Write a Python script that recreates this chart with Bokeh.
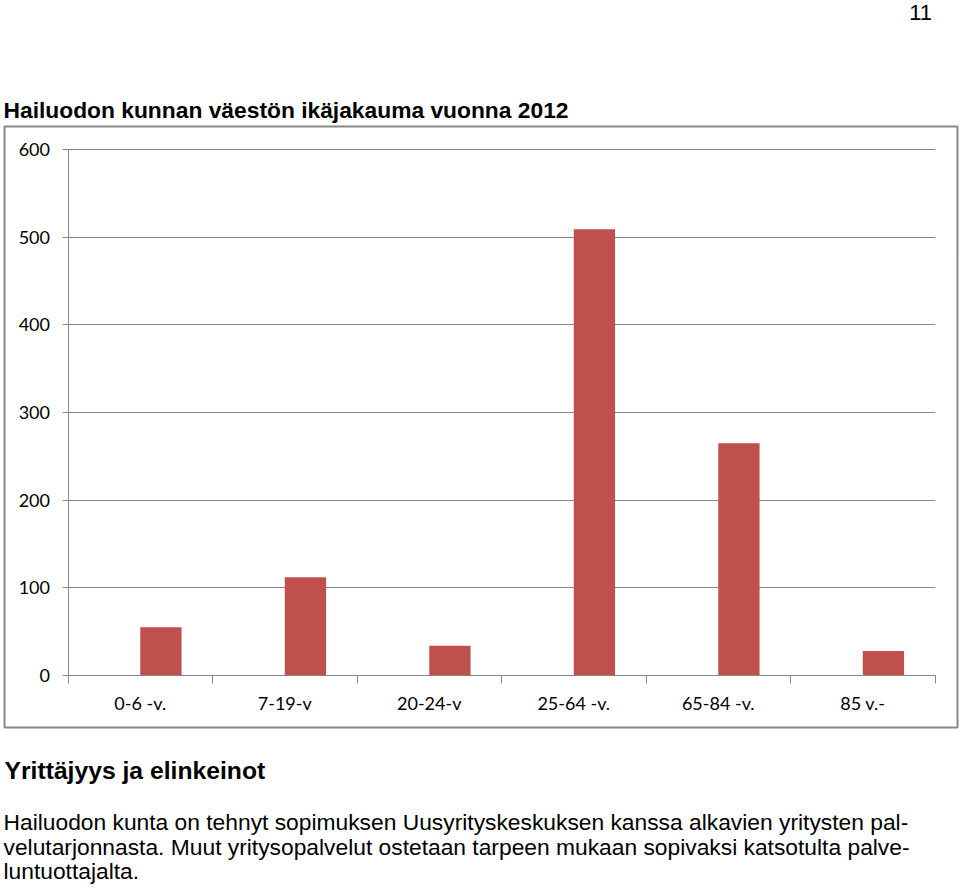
from bokeh.plotting import figure
from bokeh.models import Label, BoxAnnotation, FixedTicker, ColumnDataSource, Range1d
from bokeh.embed import file_html
from bokeh.resources import INLINE

# ---- data ----
categories = ["0-6 -v.", "7-19-v", "20-24-v", "25-64 -v.", "65-84 -v.", "85 v.-"]
population = [55, 112, 34, 509, 265, 28]
y_ticks = [0, 100, 200, 300, 400, 500, 600]

page_number = "11"
page_title = "Hailuodon kunnan väestön ikäjakauma vuonna 2012"
heading = "Yrittäjyys ja elinkeinot"
paragraph_lines = [
    "Hailuodon kunta on tehnyt sopimuksen Uusyrityskeskuksen kanssa alkavien yritysten pal-",
    "velutarjonnasta. Muut yritysopalvelut ostetaan tarpeen mukaan sopivaksi katsotulta palve-",
    "luntuottajalta.",
]

# ---- layout / styles ----
W, H = 960, 892
BAR = "#C0504D"
GRID = "#868686"
BORDER = "#888888"
CHART_FONT = "Lato"
TEXT_FONT = "Liberation Sans"

n = len(categories)
y_max = y_ticks[-1]
# plot-area position on the page (pixels)
PX_LEFT, PX_RIGHT = 67.5, 934.5
PX_TOP, PX_BOTTOM = 149.0, 675.0

x_scale = (PX_RIGHT - PX_LEFT) / n
y_scale = (PX_BOTTOM - PX_TOP) / y_max
x_range = Range1d(-PX_LEFT / x_scale, n + (W - PX_RIGHT) / x_scale)
y_range = Range1d(-(H - PX_BOTTOM) / y_scale, y_max + PX_TOP / y_scale)

centers = [i + 0.5 for i in range(n)]
bar_offset = 0.143
bar_width = 0.2857

src = ColumnDataSource(dict(x=[c + bar_offset for c in centers], top=population))

p = figure(width=W, height=H, output_backend="svg", toolbar_location=None,
           title=None, x_range=x_range, y_range=y_range,
           background_fill_color="white", border_fill_color="white",
           outline_line_color=None)
p.min_border = 0

# grid lines limited to the plot area
p.xgrid.grid_line_color = None
p.ygrid.ticker = FixedTicker(ticks=y_ticks)
p.ygrid.grid_line_color = GRID
p.ygrid.grid_line_width = 1
try:
    p.ygrid.cross_bounds = (0, n)
except Exception:
    p.ygrid.grid_line_color = None
    p.segment(x0=0, x1=n, y0=y_ticks, y1=y_ticks, line_color=GRID, line_width=1,
              level="underlay")

p.vbar(x="x", top="top", width=bar_width, source=src, color=BAR, line_color=None)

# x axis (drawn at value 0)
xa = p.xaxis[0]
xa.fixed_location = 0
xa.bounds = (0, n)
xa.ticker = FixedTicker(ticks=centers, minor_ticks=list(range(n + 1)))
xa.major_label_overrides = {c: lab for c, lab in zip(centers, categories)}
xa.major_tick_line_color = None
xa.major_tick_in = 0
xa.major_tick_out = 8
xa.minor_tick_in = 0
xa.minor_tick_out = 8
xa.minor_tick_line_color = GRID
xa.axis_line_color = GRID
xa.major_label_standoff = 8
xa.major_label_text_font = CHART_FONT
xa.major_label_text_font_size = "18px"
xa.major_label_text_color = "#000000"

# y axis (drawn at left edge of the categories)
ya = p.yaxis[0]
ya.fixed_location = 0
ya.bounds = (0, y_max)
ya.ticker = FixedTicker(ticks=y_ticks)
ya.major_tick_in = 0
ya.major_tick_out = 6
ya.major_tick_line_color = GRID
ya.minor_tick_line_color = None
ya.axis_line_color = GRID
ya.major_label_standoff = 12
ya.major_label_text_font = CHART_FONT
ya.major_label_text_font_size = "18px"
ya.major_label_text_color = "#000000"

# chart border box
p.add_layout(BoxAnnotation(left=4, right=957, top=126, bottom=727,
                           left_units="canvas", right_units="canvas",
                           top_units="canvas", bottom_units="canvas",
                           fill_color=None, fill_alpha=0,
                           line_color=BORDER, line_alpha=1.0, line_width=2))

def add_text(txt, x, baseline, size, bold=False, align="left"):
    # empirical correction: the rendered baseline sits ~0.41em below y
    y = baseline - 0.41 * size
    p.add_layout(Label(x=x, y=y, x_units="canvas", y_units="canvas", text=txt,
                       text_font=TEXT_FONT, text_font_size=f"{size}px",
                       text_font_style="bold" if bold else "normal",
                       text_align=align, text_baseline="alphabetic",
                       text_color="#000000"))

add_text(page_number, 931.5, 21.5, 22, align="right")
add_text(page_title, 3, 119, 22.8, bold=True)
add_text(heading, 4, 780, 24.7, bold=True)
for i, line in enumerate(paragraph_lines):
    add_text(line, 3, 831 + i * 24.5, 22.8)

open("out.html", "w").write(file_html(p, INLINE))
